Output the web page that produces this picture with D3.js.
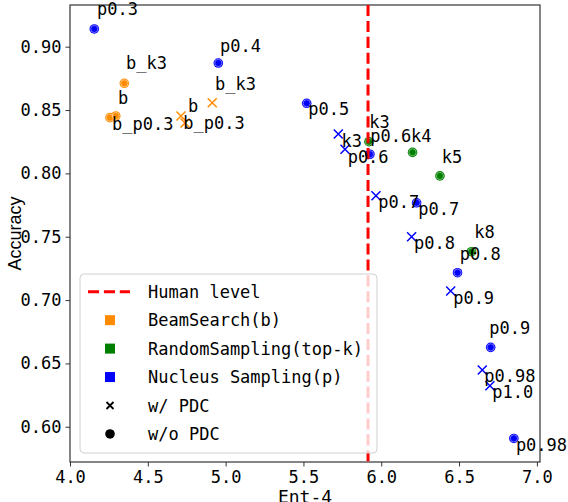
<!DOCTYPE html>
<html>
<head>
<meta charset="utf-8">
<script src="https://cdn.jsdelivr.net/npm/d3@7"></script>
<style>
  body { margin: 0; background: #fff; }
  svg { display: block; }
</style>
</head>
<body>
<script>
//
// DATA (x = Ent-4, y = Accuracy, tx/ty = where the label text sits, data units)
//
var beamNoPdc = [
  {label: "b_k3",   x: 4.349, y: 0.8711, tx: 4.360, ty: 0.8821},
  {label: "b",      x: 4.294, y: 0.8453, tx: 4.308, ty: 0.8547},
  {label: "b_p0.3", x: 4.257, y: 0.8440, tx: 4.270, ty: 0.8342}
];
var beamPdc = [
  {label: "b_k3",   x: 4.914, y: 0.8558, tx: 4.932, ty: 0.8658},
  {label: "b",      x: 4.713, y: 0.8453, tx: 4.758, ty: 0.8487},
  {label: "b_p0.3", x: 4.739, y: 0.8398, tx: 4.728, ty: 0.8348}
];
var randomNoPdc = [
  {label: "k3", x: 5.921, y: 0.8250, tx: 5.923, ty: 0.8355},
  {label: "k4", x: 6.201, y: 0.8166, tx: 6.191, ty: 0.8250},
  {label: "k5", x: 6.377, y: 0.7980, tx: 6.388, ty: 0.8084},
  {label: "k8", x: 6.580, y: 0.7382, tx: 6.597, ty: 0.7487}
];
var nucleusNoPdc = [
  {label: "p0.3",  x: 4.156, y: 0.9140, tx: 4.173, ty: 0.9250},
  {label: "p0.4",  x: 4.953, y: 0.8871, tx: 4.964, ty: 0.8958},
  {label: "p0.5",  x: 5.521, y: 0.8553, tx: 5.531, ty: 0.8461},
  {label: "p0.6",  x: 5.927, y: 0.8151, tx: 5.929, ty: 0.8250},
  {label: "p0.7",  x: 6.227, y: 0.7768, tx: 6.238, ty: 0.7669},
  {label: "p0.8",  x: 6.490, y: 0.7216, tx: 6.505, ty: 0.7316},
  {label: "p0.9",  x: 6.703, y: 0.6627, tx: 6.694, ty: 0.6732},
  {label: "p0.98", x: 6.852, y: 0.5908, tx: 6.865, ty: 0.5811}
];
var nucleusPdc = [
  {label: "k3",    x: 5.724, y: 0.8311, tx: 5.745, ty: 0.8211},
  {label: "p0.6",  x: 5.767, y: 0.8190, tx: 5.784, ty: 0.8084},
  {label: "p0.7",  x: 5.966, y: 0.7824, tx: 5.981, ty: 0.7724},
  {label: "p0.8",  x: 6.195, y: 0.7500, tx: 6.210, ty: 0.7405},
  {label: "p0.9",  x: 6.446, y: 0.7071, tx: 6.462, ty: 0.6966},
  {label: "p0.98", x: 6.649, y: 0.6448, tx: 6.662, ty: 0.6351},
  {label: "p1.0",  x: 6.698, y: 0.6324, tx: 6.713, ty: 0.6224}
];
var humanLevel = 5.915;

var xTicks = [4.0, 4.5, 5.0, 5.5, 6.0, 6.5, 7.0];
var yTicks = [0.60, 0.65, 0.70, 0.75, 0.80, 0.85, 0.90];

var legendItems = [
  {text: "Human level",               kind: "line"},
  {text: "BeamSearch(b)",             kind: "square", color: "darkorange"},
  {text: "RandomSampling(top-k)",     kind: "square", color: "green"},
  {text: "Nucleus Sampling(p)",       kind: "square", color: "blue"},
  {text: "w/ PDC",                    kind: "cross",  color: "black"},
  {text: "w/o PDC",                   kind: "dot",    color: "black"}
];

//
// LAYOUT
//
var W = 568, H = 502;
var pLeft = 70, pRight = 540, pTop = 5, pBottom = 462;
var mono = "'DejaVu Sans Mono', 'Liberation Mono', monospace";
var fs = 17;

var x = d3.scaleLinear().domain([4.0, 7.02]).range([pLeft, pRight]);
var y = d3.scaleLinear().domain([0.5722, 0.9329]).range([pBottom, pTop]);

var svg = d3.select("body").append("svg")
  .attr("width", W)
  .attr("height", H);

// Axes
var xAxis = svg.append("g")
  .attr("transform", "translate(0," + pBottom + ")")
  .call(d3.axisBottom(x).tickValues(xTicks).tickFormat(d3.format(".1f")).tickSize(4.5).tickPadding(4));
var yAxis = svg.append("g")
  .attr("transform", "translate(" + pLeft + ",0)")
  .call(d3.axisLeft(y).tickValues(yTicks).tickFormat(d3.format(".2f")).tickSize(4.5).tickPadding(4));

[xAxis, yAxis].forEach(function(a){
  a.select(".domain").remove();
  a.selectAll(".tick line").attr("stroke", "#333").attr("stroke-width", 1);
  a.selectAll(".tick text")
    .attr("fill", "#000")
    .style("font-family", mono)
    .style("font-size", fs + "px");
});

// Frame
svg.append("rect")
  .attr("x", pLeft).attr("y", pTop)
  .attr("width", pRight - pLeft).attr("height", pBottom - pTop)
  .attr("fill", "none")
  .attr("stroke", "#333")
  .attr("stroke-width", 1.2);

// Axis titles
svg.append("text")
  .attr("transform", "translate(20.5," + ((pTop + pBottom) / 2) + ") rotate(-90)")
  .attr("text-anchor", "middle")
  .style("font-family", "'Liberation Sans', Arial, sans-serif")
  .style("font-size", "18px")
  .text("Accuracy");
svg.append("text")
  .attr("x", (pLeft + pRight) / 2)
  .attr("y", 503)
  .attr("text-anchor", "middle")
  .style("font-family", mono)
  .style("font-size", "18px")
  .text("Ent-4");

//
// MARKS
//
var crossPath = "M-4.5,-4.5L4.5,4.5M-4.5,4.5L4.5,-4.5";

function drawDots(data, color){
  var g = svg.append("g");
  g.selectAll("circle.outer")
    .data(data)
    .enter()
    .append("circle")
    .attr("class", "outer")
    .attr("cx", function(d){ return x(d.x); })
    .attr("cy", function(d){ return y(d.y); })
    .attr("r", 4.8)
    .attr("fill", color);
  g.selectAll("circle.ring")
    .data(data)
    .enter()
    .append("circle")
    .attr("class", "ring")
    .attr("cx", function(d){ return x(d.x); })
    .attr("cy", function(d){ return y(d.y); })
    .attr("r", 3.6)
    .attr("fill", "none")
    .attr("stroke", "#fff")
    .attr("stroke-opacity", 0.55)
    .attr("stroke-width", 0.8);
}

function drawCrosses(data, color){
  svg.append("g")
    .selectAll("path")
    .data(data)
    .enter()
    .append("path")
    .attr("d", crossPath)
    .attr("transform", function(d){ return "translate(" + x(d.x) + "," + y(d.y) + ")"; })
    .attr("fill", "none")
    .attr("stroke", color)
    .attr("stroke-width", 1.5);
}

drawDots(beamNoPdc, "darkorange");
drawCrosses(beamPdc, "darkorange");
drawDots(randomNoPdc, "green");
drawDots(nucleusNoPdc, "blue");
drawCrosses(nucleusPdc, "blue");

// Human level line
svg.append("line")
  .attr("x1", x(humanLevel)).attr("x2", x(humanLevel))
  .attr("y1", pTop).attr("y2", pBottom)
  .attr("stroke", "red")
  .attr("stroke-width", 3)
  .attr("stroke-dasharray", "11.1,4.8");

// Labels
var allPoints = [].concat(beamNoPdc, beamPdc, randomNoPdc, nucleusNoPdc, nucleusPdc);
svg.append("g")
  .selectAll("text")
  .data(allPoints)
  .enter()
  .append("text")
  .attr("x", function(d){ return x(d.tx); })
  .attr("y", function(d){ return y(d.ty); })
  .style("font-family", mono)
  .style("font-size", fs + "px")
  .text(function(d){ return d.label; });

//
// LEGEND
//
var legend = svg.append("g");
legend.append("rect")
  .attr("x", 80).attr("y", 274)
  .attr("width", 297).attr("height", 179)
  .attr("rx", 4)
  .attr("fill", "#fff")
  .attr("fill-opacity", 0.8)
  .attr("stroke", "#d0d0d0")
  .attr("stroke-width", 1);

var rows = legend.selectAll("g.row")
  .data(legendItems)
  .enter()
  .append("g")
  .attr("class", "row")
  .attr("transform", function(d, i){ return "translate(0," + (291.7 + i * 28.45) + ")"; });

rows.each(function(d){
  var r = d3.select(this);
  if (d.kind === "line") {
    r.append("line")
      .attr("x1", 88).attr("x2", 130)
      .attr("stroke", "red").attr("stroke-width", 3)
      .attr("stroke-dasharray", "11.1,4.8");
  } else if (d.kind === "square") {
    r.append("rect")
      .attr("x", 105).attr("y", -5)
      .attr("width", 10).attr("height", 10)
      .attr("fill", d.color);
  } else if (d.kind === "cross") {
    r.append("path")
      .attr("d", "M-3.5,-3.5L3.5,3.5M-3.5,3.5L3.5,-3.5")
      .attr("transform", "translate(110,0)")
      .attr("stroke", d.color).attr("stroke-width", 1.8);
  } else {
    r.append("circle")
      .attr("cx", 110).attr("r", 4.8)
      .attr("fill", d.color);
  }
  r.append("text")
    .attr("x", 148)
    .attr("y", 6)
    .style("font-family", mono)
    .style("font-size", fs + "px")
    .text(d.text);
});
</script>
</body>
</html>
